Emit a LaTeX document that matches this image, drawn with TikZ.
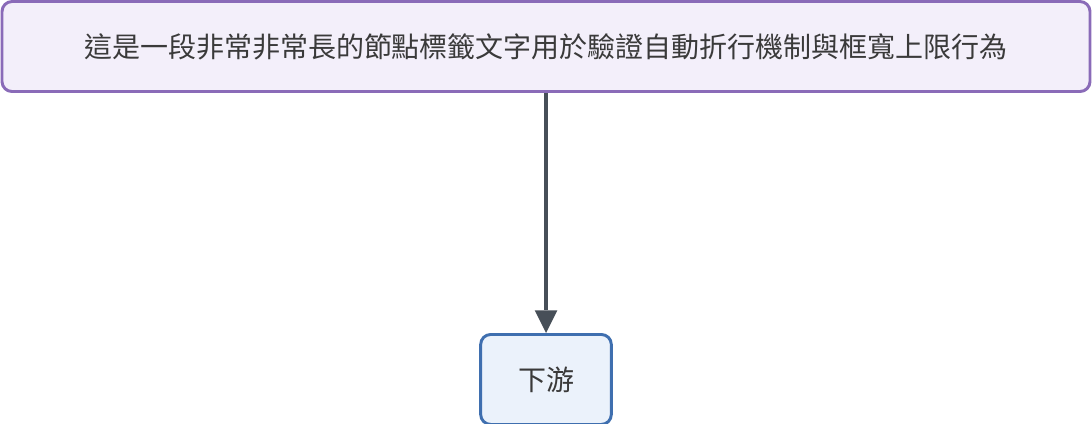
\documentclass[tikz,border=0pt]{standalone}
\usepackage{fontspec}
\newfontfamily\cjk{Noto Sans CJK TC}
\usepackage{tikz}
\usetikzlibrary{arrows.meta,positioning}

\definecolor{longfill}{HTML}{F3EFFA}
\definecolor{longdraw}{HTML}{8A6BB8}
\definecolor{downfill}{HTML}{EBF2FB}
\definecolor{downdraw}{HTML}{3F6FAF}
\definecolor{arrowgray}{HTML}{474F58}
\definecolor{textgray}{HTML}{3A3A3A}

\begin{document}
\begin{tikzpicture}[node distance=180pt,
                    box node/.style={draw,line width=2.2pt,rounded corners=7.5pt,
                      text=textgray,font=\cjk\fontsize{21pt}{26pt}\selectfont,
                      minimum height=67.5pt,inner sep=0pt},
                    long node/.style={box node,draw=longdraw,fill=longfill,minimum width=816pt},
                    down node/.style={box node,draw=downdraw,fill=downfill,minimum width=98pt},
                    flow/.style={draw=arrowgray,line width=3.6pt,
                      -{Triangle[length=17pt,width=17pt,line width=0pt]}}]

  \useasboundingbox (0,0) rectangle (819pt,-318pt);

  \node[long node] (1) at (409.5pt,-34.9pt) {這是一段非常非常長的節點標籤文字用於驗證自動折行機制與框寬上限行為};
  \node[down node] (2) [below=of 1] {下游};

  \draw[flow] (1) -- (2);
\end{tikzpicture}
\end{document}
